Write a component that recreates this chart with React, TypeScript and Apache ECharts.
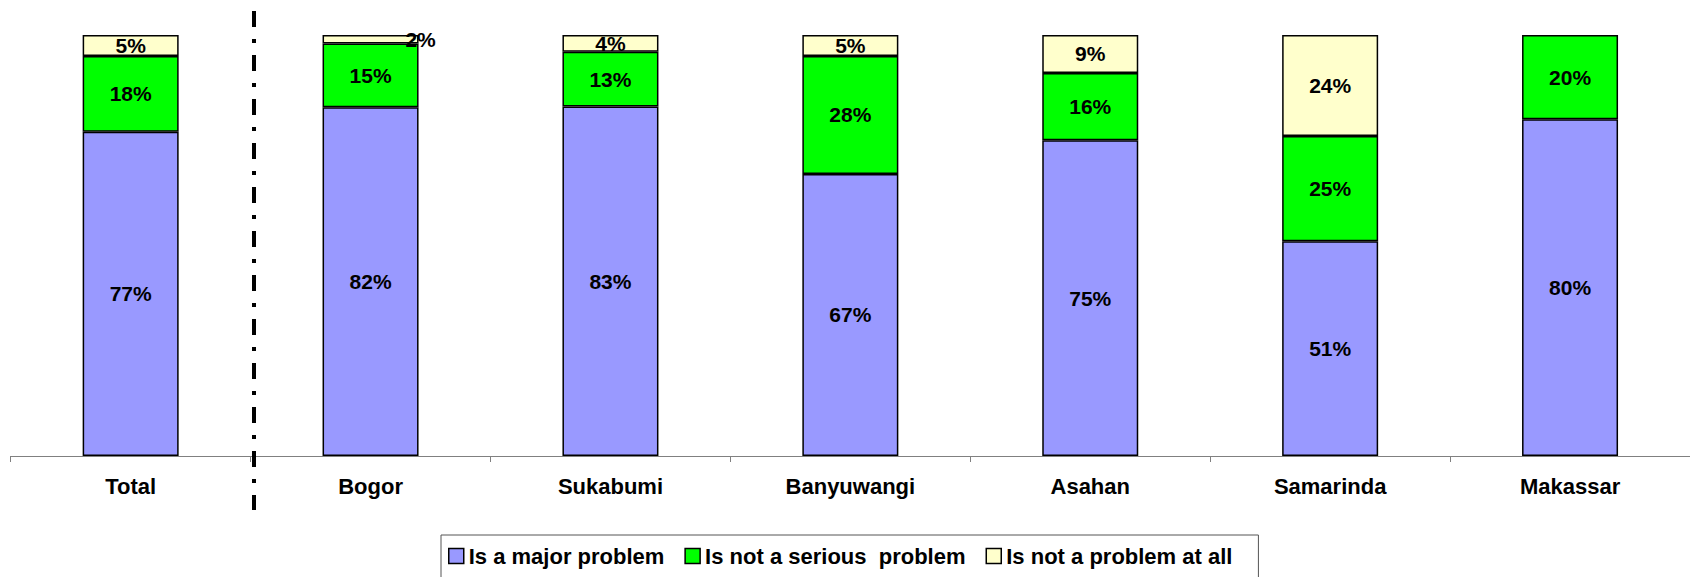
import React, { useEffect, useRef } from "react";
import * as echarts from "echarts";

const categories = ["Total", "Bogor", "Sukabumi", "Banyuwangi", "Asahan", "Samarinda", "Makassar"];
const seriesNames = ["Is a major problem", "Is not a serious  problem", "Is not a problem at all"];
const majorProblem = [77, 82, 83, 67, 75, 51, 80];
const notSerious = [18, 15, 13, 28, 16, 25, 20];
const notAtAll = [5, 2, 4, 5, 9, 24, 0];
const colors = ["#9999FF", "#00FF00", "#FFFFCC"];

const FONT = "'Liberation Sans', Arial, sans-serif";

export default function App() {
  const ref = useRef<HTMLDivElement>(null);

  useEffect(() => {
    document.body.style.margin = "0";
    if (!ref.current) return;
    const chart = echarts.init(ref.current, undefined, { renderer: "svg" });
    const raw = [majorProblem, notSerious, notAtAll];
    const totals = categories.map((_, i) => raw.reduce((s, arr) => s + arr[i], 0));

    const series = raw.map((arr, si) => ({
      name: seriesNames[si],
      type: "bar",
      stack: "all",
      barWidth: 96,
      itemStyle: { color: colors[si], borderColor: "#000", borderWidth: 1.5 },
      label: {
        show: true,
        position: "inside",
        color: "#000",
        fontFamily: FONT,
        fontWeight: "bold",
        fontSize: 21,
        formatter: (p: any) => (p.data && p.data.raw ? p.data.raw + "%" : ""),
      },
      data: arr.map((v, i) => {
        if (!v) return { value: null, raw: 0 };
        const item: any = { value: (v / totals[i]) * 100, raw: v };
        if (si === 2 && i === 1) {
          item.label = { offset: [50, 0] };
        }
        return item;
      }),
    }));

    chart.setOption({
      animation: false,
      backgroundColor: "#fff",
      grid: { left: 10.7, top: 35, width: 1684.7, height: 421 },
      xAxis: {
        type: "category",
        data: categories,
        boundaryGap: true,
        axisLine: { lineStyle: { color: "#808080", width: 1 } },
        axisTick: { show: true, length: 6, lineStyle: { color: "#808080" } },
        axisLabel: {
          color: "#000",
          fontFamily: FONT,
          fontWeight: "bold",
          fontSize: 22,
          margin: 19,
        },
      },
      yAxis: {
        type: "value",
        min: 0,
        max: 100,
        show: false,
        splitLine: { show: false },
      },
      legend: {
        left: 441,
        top: 535,
        icon: "rect",
        itemWidth: 15,
        itemHeight: 15,
        itemGap: 20,
        padding: [10, 26, 20, 7],
        borderColor: "#555",
        borderWidth: 1,
        textStyle: { color: "#000", fontFamily: FONT, fontWeight: "bold", fontSize: 22 },
        itemStyle: { borderColor: "#000", borderWidth: 1.5 },
        data: seriesNames,
      },
      graphic: [
        {
          type: "line",
          shape: { x1: 254, y1: 11, x2: 254, y2: 510 },
          style: { stroke: "#000", lineWidth: 4, lineDash: [16, 12, 4, 12] },
          z: 100,
        },
      ],
      series,
    });
    return () => chart.dispose();
  }, []);

  return (
    <div
      ref={ref}
      style={{ position: "fixed", left: 0, top: 0, width: 1690, height: 577 }}
    />
  );
}
